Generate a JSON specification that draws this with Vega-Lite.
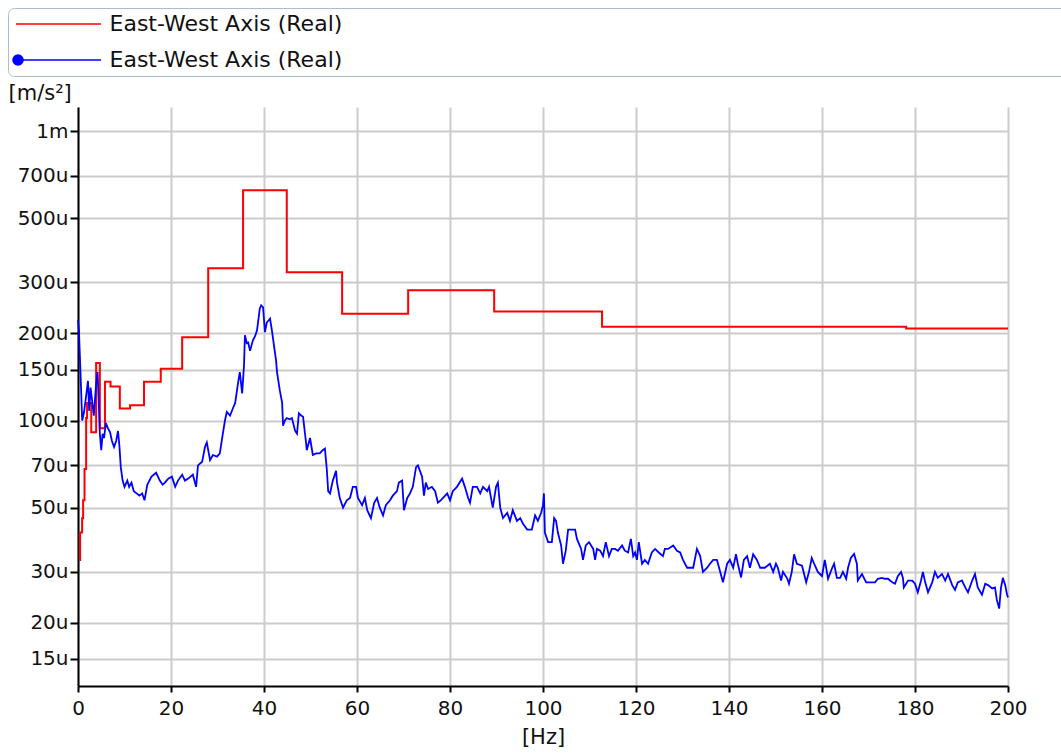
{
  "$schema": "https://vega.github.io/schema/vega-lite/v6.json",
  "width": 930,
  "height": 579,
  "autosize": {"type": "none"},
  "padding": {"left": 78, "top": 107, "right": 53, "bottom": 70},
  "background": "white",
  "config": {"view": {"stroke": null}, "font": "DejaVu Sans"},
  "datasets": {
    "band": [
      {"f":0.3,"v":33,"s":"band"},{"f":0.45,"v":41,"s":"band"},{"f":0.89,"v":46,"s":"band"},{"f":1.1,"v":53,"s":"band"},
      {"f":1.4,"v":68,"s":"band"},{"f":1.75,"v":102,"s":"band"},{"f":1.95,"v":115,"s":"band"},{"f":2.85,"v":91,"s":"band"},
      {"f":3.9,"v":158,"s":"band"},{"f":4.7,"v":94,"s":"band"},{"f":5.8,"v":136,"s":"band"},{"f":7.0,"v":131,"s":"band"},
      {"f":9.0,"v":110,"s":"band"},{"f":11.2,"v":113,"s":"band"},{"f":14.2,"v":136,"s":"band"},{"f":17.8,"v":151,"s":"band"},
      {"f":22.4,"v":194,"s":"band"},{"f":28.0,"v":336,"s":"band"},{"f":35.5,"v":625,"s":"band"},{"f":44.9,"v":325,"s":"band"},
      {"f":56.8,"v":234,"s":"band"},{"f":71.0,"v":282,"s":"band"},{"f":89.5,"v":238,"s":"band"},{"f":112.7,"v":211,"s":"band"},
      {"f":178.1,"v":208,"s":"band"},{"f":200,"v":208,"s":"band"}
    ],
    "spectrum": [
      {"f":0,"v":222,"s":"spec"},{"f":0.2,"v":205,"s":"spec"},{"f":0.6,"v":137,"s":"spec"},{"f":0.9,"v":100,"s":"spec"},{"f":1.3,"v":107,"s":"spec"},
      {"f":1.7,"v":120,"s":"spec"},{"f":2.15,"v":137,"s":"spec"},{"f":2.4,"v":108,"s":"spec"},{"f":2.7,"v":130,"s":"spec"},{"f":3.2,"v":111,"s":"spec"},
      {"f":3.4,"v":104,"s":"spec"},{"f":3.9,"v":134,"s":"spec"},{"f":4.2,"v":147,"s":"spec"},{"f":4.45,"v":117,"s":"spec"},{"f":4.7,"v":90,"s":"spec"},
      {"f":5.0,"v":79,"s":"spec"},{"f":5.3,"v":90,"s":"spec"},{"f":5.6,"v":87,"s":"spec"},{"f":6.0,"v":98,"s":"spec"},{"f":6.45,"v":94,"s":"spec"},
      {"f":6.9,"v":91,"s":"spec"},{"f":7.3,"v":85,"s":"spec"},{"f":7.75,"v":81,"s":"spec"},{"f":8.2,"v":85,"s":"spec"},{"f":8.6,"v":92,"s":"spec"},
      {"f":8.9,"v":82,"s":"spec"},{"f":9.2,"v":69,"s":"spec"},{"f":9.6,"v":62,"s":"spec"},{"f":10.0,"v":59,"s":"spec"},{"f":10.6,"v":62,"s":"spec"},
      {"f":11.0,"v":59,"s":"spec"},{"f":11.5,"v":61,"s":"spec"},{"f":12.0,"v":57,"s":"spec"},{"f":12.6,"v":56,"s":"spec"},{"f":13.2,"v":55,"s":"spec"},
      {"f":13.8,"v":56,"s":"spec"},{"f":14.3,"v":53,"s":"spec"},{"f":14.9,"v":60,"s":"spec"},{"f":15.8,"v":64,"s":"spec"},{"f":16.8,"v":66,"s":"spec"},
      {"f":17.6,"v":62,"s":"spec"},{"f":18.2,"v":60,"s":"spec"},{"f":18.7,"v":61,"s":"spec"},{"f":19.4,"v":63,"s":"spec"},{"f":20.2,"v":64,"s":"spec"},
      {"f":20.9,"v":59,"s":"spec"},{"f":21.5,"v":62,"s":"spec"},{"f":22.4,"v":65,"s":"spec"},{"f":23.0,"v":62,"s":"spec"},{"f":23.7,"v":63,"s":"spec"},
      {"f":24.7,"v":65,"s":"spec"},{"f":25.4,"v":59,"s":"spec"},{"f":25.8,"v":70,"s":"spec"},{"f":26.7,"v":72,"s":"spec"},{"f":27.3,"v":81,"s":"spec"},
      {"f":27.7,"v":84,"s":"spec"},{"f":28.4,"v":73,"s":"spec"},{"f":29.0,"v":76,"s":"spec"},{"f":29.9,"v":75,"s":"spec"},{"f":30.5,"v":77,"s":"spec"},
      {"f":31.0,"v":87,"s":"spec"},{"f":31.6,"v":100,"s":"spec"},{"f":32.0,"v":107,"s":"spec"},{"f":32.7,"v":104,"s":"spec"},{"f":33.3,"v":110,"s":"spec"},
      {"f":33.8,"v":115,"s":"spec"},{"f":34.4,"v":134,"s":"spec"},{"f":34.8,"v":147,"s":"spec"},{"f":35.3,"v":124,"s":"spec"},{"f":35.7,"v":155,"s":"spec"},
      {"f":35.9,"v":197,"s":"spec"},{"f":36.3,"v":185,"s":"spec"},{"f":36.6,"v":186,"s":"spec"},{"f":37.0,"v":174,"s":"spec"},{"f":37.6,"v":189,"s":"spec"},
      {"f":38.1,"v":196,"s":"spec"},{"f":38.5,"v":205,"s":"spec"},{"f":39.1,"v":244,"s":"spec"},{"f":39.4,"v":250,"s":"spec"},{"f":39.8,"v":246,"s":"spec"},
      {"f":40.2,"v":202,"s":"spec"},{"f":40.6,"v":218,"s":"spec"},{"f":41.3,"v":225,"s":"spec"},{"f":41.7,"v":205,"s":"spec"},{"f":42.2,"v":179,"s":"spec"},
      {"f":42.6,"v":161,"s":"spec"},{"f":42.8,"v":147,"s":"spec"},{"f":43.4,"v":127,"s":"spec"},{"f":43.9,"v":115,"s":"spec"},{"f":44.1,"v":96,"s":"spec"},
      {"f":44.5,"v":100,"s":"spec"},{"f":44.9,"v":102,"s":"spec"},{"f":45.5,"v":101,"s":"spec"},{"f":46.0,"v":102,"s":"spec"},{"f":46.7,"v":92,"s":"spec"},
      {"f":47.1,"v":90,"s":"spec"},{"f":47.5,"v":106,"s":"spec"},{"f":48.0,"v":104,"s":"spec"},{"f":48.4,"v":103,"s":"spec"},{"f":49.0,"v":85,"s":"spec"},
      {"f":49.2,"v":79,"s":"spec"},{"f":49.9,"v":87,"s":"spec"},{"f":50.5,"v":76,"s":"spec"},{"f":51.2,"v":77,"s":"spec"},{"f":52.0,"v":77,"s":"spec"},
      {"f":52.6,"v":79,"s":"spec"},{"f":53.1,"v":80,"s":"spec"},{"f":53.5,"v":68,"s":"spec"},{"f":53.8,"v":57,"s":"spec"},{"f":54.2,"v":56,"s":"spec"},
      {"f":54.8,"v":62,"s":"spec"},{"f":55.5,"v":67,"s":"spec"},{"f":55.7,"v":61,"s":"spec"},{"f":56.3,"v":54,"s":"spec"},{"f":57.0,"v":50,"s":"spec"},
      {"f":57.8,"v":53,"s":"spec"},{"f":58.5,"v":54,"s":"spec"},{"f":59.1,"v":59,"s":"spec"},{"f":59.8,"v":59,"s":"spec"},{"f":60.2,"v":54,"s":"spec"},
      {"f":61.1,"v":51,"s":"spec"},{"f":61.7,"v":54,"s":"spec"},{"f":62.2,"v":49,"s":"spec"},{"f":63.0,"v":46,"s":"spec"},{"f":63.7,"v":52,"s":"spec"},
      {"f":64.3,"v":54,"s":"spec"},{"f":64.9,"v":50,"s":"spec"},{"f":65.6,"v":47,"s":"spec"},{"f":66.2,"v":51,"s":"spec"},{"f":67.1,"v":53,"s":"spec"},
      {"f":67.7,"v":55,"s":"spec"},{"f":68.6,"v":57,"s":"spec"},{"f":69.0,"v":61,"s":"spec"},{"f":69.7,"v":62,"s":"spec"},{"f":70.1,"v":49,"s":"spec"},
      {"f":70.8,"v":54,"s":"spec"},{"f":71.4,"v":56,"s":"spec"},{"f":72.0,"v":59,"s":"spec"},{"f":72.7,"v":69,"s":"spec"},{"f":73.1,"v":70,"s":"spec"},
      {"f":74.0,"v":64,"s":"spec"},{"f":74.4,"v":55,"s":"spec"},{"f":74.8,"v":61,"s":"spec"},{"f":75.3,"v":58,"s":"spec"},{"f":76.1,"v":59,"s":"spec"},
      {"f":76.8,"v":57,"s":"spec"},{"f":77.4,"v":52,"s":"spec"},{"f":78.0,"v":53,"s":"spec"},{"f":78.5,"v":54,"s":"spec"},{"f":79.4,"v":56,"s":"spec"},
      {"f":80.0,"v":53,"s":"spec"},{"f":80.6,"v":57,"s":"spec"},{"f":81.5,"v":59,"s":"spec"},{"f":82.6,"v":63,"s":"spec"},{"f":83.2,"v":59,"s":"spec"},
      {"f":83.9,"v":54,"s":"spec"},{"f":84.3,"v":52,"s":"spec"},{"f":84.9,"v":59,"s":"spec"},{"f":85.8,"v":59,"s":"spec"},{"f":86.5,"v":56,"s":"spec"},
      {"f":87.1,"v":59,"s":"spec"},{"f":88.0,"v":57,"s":"spec"},{"f":88.4,"v":59,"s":"spec"},{"f":89.0,"v":52,"s":"spec"},{"f":89.2,"v":50,"s":"spec"},
      {"f":89.9,"v":59,"s":"spec"},{"f":90.3,"v":61,"s":"spec"},{"f":90.8,"v":50,"s":"spec"},{"f":91.4,"v":46,"s":"spec"},{"f":92.3,"v":48,"s":"spec"},
      {"f":92.9,"v":45,"s":"spec"},{"f":93.5,"v":49,"s":"spec"},{"f":94.4,"v":45,"s":"spec"},{"f":95.1,"v":46,"s":"spec"},{"f":95.7,"v":44,"s":"spec"},
      {"f":96.6,"v":42,"s":"spec"},{"f":97.6,"v":42,"s":"spec"},{"f":98.3,"v":47,"s":"spec"},{"f":98.9,"v":45,"s":"spec"},{"f":99.6,"v":48,"s":"spec"},
      {"f":100.0,"v":51,"s":"spec"},{"f":100.2,"v":56,"s":"spec"},{"f":100.4,"v":41,"s":"spec"},{"f":101.1,"v":38,"s":"spec"},{"f":101.9,"v":38,"s":"spec"},
      {"f":102.4,"v":46,"s":"spec"},{"f":102.8,"v":45,"s":"spec"},{"f":103.2,"v":41,"s":"spec"},{"f":103.9,"v":37,"s":"spec"},{"f":104.3,"v":32,"s":"spec"},
      {"f":104.9,"v":35.5,"s":"spec"},{"f":105.4,"v":42,"s":"spec"},{"f":106.2,"v":42,"s":"spec"},{"f":106.9,"v":42,"s":"spec"},{"f":107.3,"v":39,"s":"spec"},
      {"f":108.2,"v":36,"s":"spec"},{"f":108.6,"v":33,"s":"spec"},{"f":109.2,"v":37,"s":"spec"},{"f":109.9,"v":38,"s":"spec"},{"f":110.8,"v":36,"s":"spec"},
      {"f":111.2,"v":33,"s":"spec"},{"f":111.6,"v":36,"s":"spec"},{"f":112.3,"v":35.5,"s":"spec"},{"f":112.9,"v":34,"s":"spec"},{"f":113.5,"v":38,"s":"spec"},
      {"f":114.2,"v":34,"s":"spec"},{"f":114.8,"v":36,"s":"spec"},{"f":115.5,"v":36,"s":"spec"},{"f":116.1,"v":35.5,"s":"spec"},{"f":117.0,"v":37,"s":"spec"},
      {"f":117.6,"v":35.5,"s":"spec"},{"f":118.3,"v":35,"s":"spec"},{"f":118.9,"v":39,"s":"spec"},{"f":119.4,"v":34,"s":"spec"},{"f":119.8,"v":35,"s":"spec"},
      {"f":120.2,"v":33,"s":"spec"},{"f":120.6,"v":38,"s":"spec"},{"f":121.3,"v":32,"s":"spec"},{"f":121.9,"v":33,"s":"spec"},{"f":122.6,"v":32,"s":"spec"},
      {"f":123.4,"v":35,"s":"spec"},{"f":124.1,"v":36,"s":"spec"},{"f":124.9,"v":35,"s":"spec"},{"f":125.8,"v":34,"s":"spec"},{"f":126.2,"v":36,"s":"spec"},
      {"f":126.9,"v":36,"s":"spec"},{"f":128.0,"v":37,"s":"spec"},{"f":128.8,"v":35.5,"s":"spec"},{"f":129.5,"v":35,"s":"spec"},{"f":130.1,"v":33,"s":"spec"},
      {"f":131.0,"v":31,"s":"spec"},{"f":131.6,"v":31,"s":"spec"},{"f":132.3,"v":31,"s":"spec"},{"f":133.1,"v":36,"s":"spec"},{"f":133.8,"v":34,"s":"spec"},
      {"f":134.4,"v":30,"s":"spec"},{"f":135.3,"v":31,"s":"spec"},{"f":135.9,"v":32,"s":"spec"},{"f":136.6,"v":33,"s":"spec"},{"f":137.4,"v":33,"s":"spec"},
      {"f":138.1,"v":30,"s":"spec"},{"f":138.7,"v":27.6,"s":"spec"},{"f":139.6,"v":32,"s":"spec"},{"f":140.2,"v":33,"s":"spec"},{"f":140.9,"v":31,"s":"spec"},
      {"f":141.5,"v":34.5,"s":"spec"},{"f":141.9,"v":32,"s":"spec"},{"f":142.6,"v":28.7,"s":"spec"},{"f":143.2,"v":33,"s":"spec"},{"f":143.9,"v":34,"s":"spec"},
      {"f":144.5,"v":31,"s":"spec"},{"f":145.2,"v":34.5,"s":"spec"},{"f":146.0,"v":33,"s":"spec"},{"f":146.7,"v":31,"s":"spec"},{"f":147.7,"v":31,"s":"spec"},
      {"f":148.8,"v":32,"s":"spec"},{"f":149.5,"v":30,"s":"spec"},{"f":150.1,"v":32,"s":"spec"},{"f":150.5,"v":31,"s":"spec"},{"f":151.2,"v":28,"s":"spec"},
      {"f":151.6,"v":30,"s":"spec"},{"f":152.5,"v":28.5,"s":"spec"},{"f":152.9,"v":27.3,"s":"spec"},{"f":153.5,"v":30,"s":"spec"},{"f":154.0,"v":34.5,"s":"spec"},
      {"f":154.6,"v":32,"s":"spec"},{"f":155.7,"v":31.5,"s":"spec"},{"f":156.6,"v":27.6,"s":"spec"},{"f":157.2,"v":30,"s":"spec"},{"f":157.8,"v":33.5,"s":"spec"},
      {"f":158.5,"v":31.5,"s":"spec"},{"f":159.1,"v":30,"s":"spec"},{"f":160.0,"v":29,"s":"spec"},{"f":160.6,"v":33,"s":"spec"},{"f":161.3,"v":28.4,"s":"spec"},
      {"f":162.2,"v":31,"s":"spec"},{"f":162.6,"v":32,"s":"spec"},{"f":163.2,"v":28.6,"s":"spec"},{"f":163.9,"v":28.6,"s":"spec"},{"f":164.5,"v":30,"s":"spec"},
      {"f":165.2,"v":28.4,"s":"spec"},{"f":165.6,"v":31,"s":"spec"},{"f":166.2,"v":33.5,"s":"spec"},{"f":166.9,"v":34.6,"s":"spec"},{"f":167.5,"v":32,"s":"spec"},
      {"f":167.7,"v":28,"s":"spec"},{"f":168.6,"v":29.5,"s":"spec"},{"f":169.5,"v":27.6,"s":"spec"},{"f":170.3,"v":27.6,"s":"spec"},{"f":171.4,"v":27.6,"s":"spec"},
      {"f":172.0,"v":28.4,"s":"spec"},{"f":172.9,"v":28.6,"s":"spec"},{"f":173.5,"v":28.4,"s":"spec"},{"f":174.2,"v":28.4,"s":"spec"},{"f":175.1,"v":27.6,"s":"spec"},
      {"f":175.7,"v":27.3,"s":"spec"},{"f":176.3,"v":29,"s":"spec"},{"f":177.0,"v":30,"s":"spec"},{"f":177.4,"v":28.6,"s":"spec"},{"f":177.6,"v":26.5,"s":"spec"},
      {"f":178.5,"v":28,"s":"spec"},{"f":179.4,"v":28,"s":"spec"},{"f":180.0,"v":27.3,"s":"spec"},{"f":180.6,"v":25.5,"s":"spec"},{"f":181.3,"v":28,"s":"spec"},
      {"f":181.7,"v":30,"s":"spec"},{"f":182.2,"v":27.6,"s":"spec"},{"f":182.8,"v":25.5,"s":"spec"},{"f":183.7,"v":27.6,"s":"spec"},{"f":184.3,"v":30,"s":"spec"},
      {"f":184.9,"v":28.6,"s":"spec"},{"f":185.8,"v":29.5,"s":"spec"},{"f":186.5,"v":28,"s":"spec"},{"f":187.1,"v":29.5,"s":"spec"},{"f":188.0,"v":27,"s":"spec"},
      {"f":188.6,"v":26,"s":"spec"},{"f":189.2,"v":27.6,"s":"spec"},{"f":190.1,"v":28,"s":"spec"},{"f":190.8,"v":26.5,"s":"spec"},{"f":191.4,"v":25.5,"s":"spec"},
      {"f":192.3,"v":28,"s":"spec"},{"f":192.9,"v":29.5,"s":"spec"},{"f":193.5,"v":26.5,"s":"spec"},{"f":194.4,"v":25,"s":"spec"},{"f":195.1,"v":27.3,"s":"spec"},
      {"f":195.7,"v":27,"s":"spec"},{"f":196.6,"v":26.3,"s":"spec"},{"f":197.2,"v":26.5,"s":"spec"},{"f":197.6,"v":24,"s":"spec"},{"f":198.1,"v":22.4,"s":"spec"},
      {"f":198.5,"v":26.5,"s":"spec"},{"f":198.9,"v":28.6,"s":"spec"},{"f":199.4,"v":27,"s":"spec"},{"f":199.8,"v":25,"s":"spec"},{"f":200,"v":24.5,"s":"spec"}
    ]
  },
  "encoding": {
    "x": {
      "field": "f", "type": "quantitative",
      "scale": {"domain": [0, 200], "nice": false, "zero": false},
      "axis": {
        "title": "[Hz]", "values": [0, 20, 40, 60, 80, 100, 120, 140, 160, 180, 200],
        "grid": true, "gridColor": "#cccccc", "gridWidth": 2,
        "domainColor": "#000000", "domainWidth": 2, "tickColor": "#000000", "tickWidth": 2, "tickSize": 6,
        "labelFontSize": 20, "labelColor": "#111111", "labelPadding": 6, "labelFlush": false,
        "titleFontSize": 21, "titleFontWeight": "normal", "titleColor": "#111111", "titlePadding": 8
      }
    },
    "y": {
      "field": "v", "type": "quantitative",
      "scale": {"type": "log", "domain": [12.1, 1211], "nice": false},
      "axis": {
        "title": "[m/s²]", "titleAngle": 0, "titleAlign": "left", "titleBaseline": "middle",
        "titleX": -70, "titleY": -14, "titleFontSize": 21, "titleFontWeight": "normal", "titleColor": "#111111",
        "values": [15, 20, 30, 50, 70, 100, 150, 200, 300, 500, 700, 1000],
        "labelExpr": "datum.value >= 1000 ? '1m' : datum.value + 'u'",
        "grid": true, "gridColor": "#cccccc", "gridWidth": 2,
        "domainColor": "#000000", "domainWidth": 2, "tickColor": "#000000", "tickWidth": 2, "tickSize": 8,
        "labelFontSize": 20, "labelColor": "#111111", "labelPadding": 2
      }
    },
    "stroke": {
      "field": "s", "type": "nominal",
      "scale": {"domain": ["band", "spec"], "range": ["#ff0000", "#0000ff"]},
      "legend": {
        "orient": "none", "legendX": -70, "legendY": -99,
        "title": " ", "titleOrient": "right", "titlePadding": 740, "titleFontSize": 10,
        "labelExpr": "'East-West Axis (Real)'",
        "labelFontSize": 22, "labelColor": "#111111", "labelLimit": 0,
        "symbolSize": 400, "symbolOffset": 34.5, "labelOffset": 40, "symbolStrokeWidth": 1.6,
        "rowPadding": 14, "padding": 5,
        "strokeColor": "#a9bcd1", "fillColor": "white", "cornerRadius": 6,
        "encode": {
          "symbols": {
            "update": {
              "shape": {"signal": "datum.value === 'spec' ? 'M-4.25,0L4.25,0M-3.55,0A0.5,0.5 0 1,0 -4.55,0A0.5,0.5 0 1,0 -3.55,0Z' : 'M-4.25,0L4.25,0'"},
              "fill": {"signal": "datum.value === 'spec' ? '#0000ff' : 'transparent'"}
            }
          }
        }
      }
    }
  },
  "layer": [
    {"data": {"name": "band"}, "mark": {"type": "line", "interpolate": "step-after", "strokeWidth": 2}},
    {"data": {"name": "spectrum"}, "mark": {"type": "line", "strokeWidth": 1.8}}
  ]
}
